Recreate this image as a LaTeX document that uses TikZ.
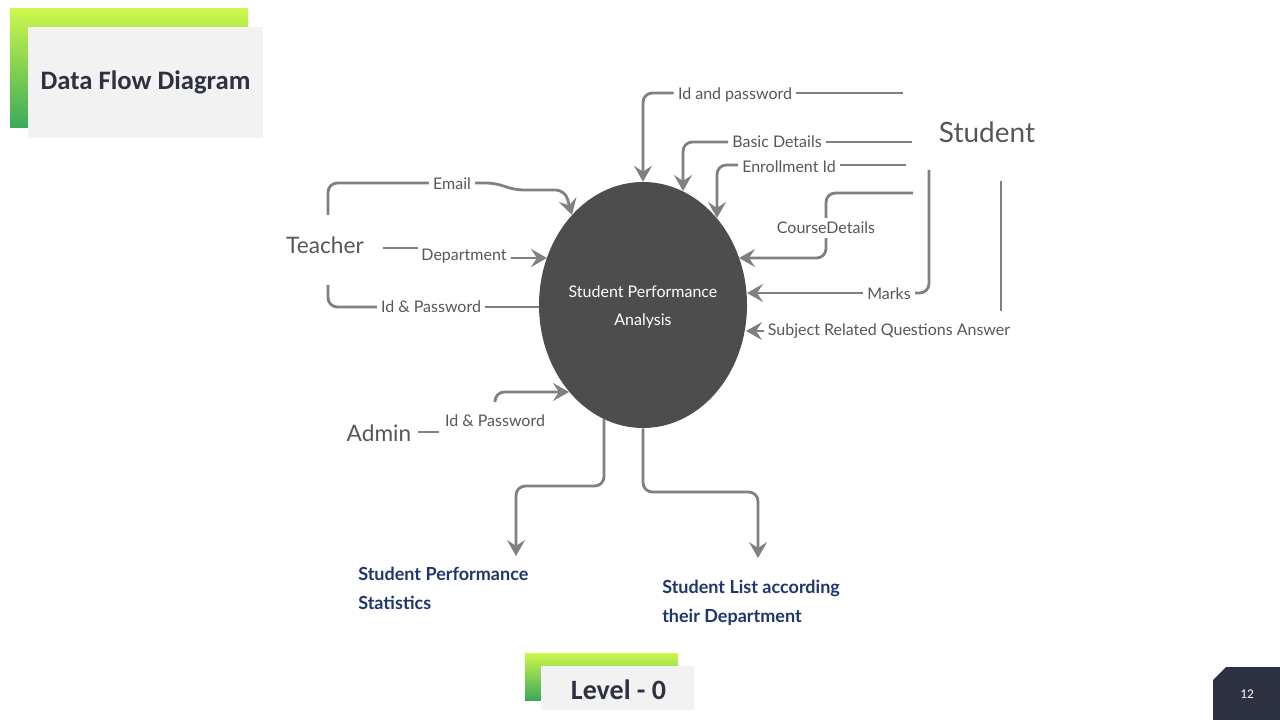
\documentclass[tikz,border=0pt]{standalone}
\usepackage{fontspec}
\setmainfont{Lato}
\newfontfamily\carl{Carlito}
\usetikzlibrary{arrows.meta,shapes.geometric}
\definecolor{lc}{HTML}{808080}
\definecolor{tc}{HTML}{575757}
\definecolor{navy}{HTML}{1F3570}
\definecolor{ttl}{HTML}{2E3142}
\definecolor{panel}{HTML}{F2F2F2}
\definecolor{lime}{HTML}{CDF74C}
\definecolor{mint}{HTML}{4EE680}
\definecolor{dgreen}{HTML}{3AAA58}
\definecolor{blob}{HTML}{4D4D4D}
\tikzset{
  flow/.style={draw=lc, line width=2.1pt, rounded corners=7pt},
  arr/.style={flow, -{Stealth[length=12pt,width=13.5pt,inset=4.5pt]}},
  lbl/.style={font=\fontsize{12}{14}\selectfont, text=tc, inner sep=3pt},
  actor/.style={text=tc, inner sep=0pt},
  outtxt/.style={font=\bfseries\fontsize{13.5}{21.75}\selectfont, text=navy, align=left, anchor=west, inner sep=0pt},
  grad/.style={top color=lime, middle color=mint, bottom color=dgreen, draw=none},
  pan/.style={fill=panel, draw=none}
}
\begin{document}
\begin{tikzpicture}[x=0.75pt,y=-0.75pt]
\useasboundingbox (0,0) rectangle (1280,720);
\fill[white] (0,0) rectangle (1280,720);

% title box
\shade[grad] (10,9) rectangle (248,128);
\fill[pan] (28,27) rectangle (263,138);
\node[font=\carl\bfseries\fontsize{20}{22}\selectfont, text=ttl] (title) at (145.5,82) {Data Flow Diagram};

% level box
\shade[grad] (525,653) rectangle (678,700);
\fill[pan] (541,666) rectangle (694,710);
\node[font=\carl\bfseries\fontsize{21}{23}\selectfont, text=ttl] (level) at (618.5,690) {Level - 0};

% page number
\fill[ttl] (1213,680) -- (1226,667) -- (1280,667) -- (1280,720) -- (1213,720) -- cycle;
\node[font=\carl\fontsize{10}{12}\selectfont, text=white] (pg) at (1247,694) {12};

% central process
\node[ellipse, fill=blob, inner sep=0pt, minimum width=156pt, minimum height=184.5pt] (sp) at (643,305) {};
\node[font=\fontsize{12}{21}\selectfont, text=white, align=center] (sptxt) at (643,307) {Student Performance\\Analysis};

% actors
\node[actor, font=\fontsize{17}{20}\selectfont] (teacher) at (325,245) {Teacher};
\node[actor, font=\fontsize{21}{24}\selectfont] (student) at (987,132) {Student};
\node[actor, font=\fontsize{17}{20}\selectfont] (admin) at (379,433) {Admin};

% teacher flows
\node[lbl] (email) at (452,184) {Email};
\draw[flow] (328,215) -- (328,183) -- (email.west |- 0,183);
\draw[arr] (email.east |- 0,183) -- (496,183) -- (514,190) -- (565,190) -- (572,215);

\node[lbl] (dep) at (464,256) {Department};
\draw[flow] (383,248) -- (418,248);
\draw[arr] (dep.east |- 0,258) -- (547,258);

\node[lbl] (tid) at (431,307) {Id \& Password};
\draw[flow] (328,285) -- (328,307) -- (tid.west);
\draw[flow] (tid.east) -- (tid.east -| sp.west);

% student flows
\node[lbl] (idpw) at (735,95) {Id and password};
\draw[flow] (903,93) -- (idpw.east |- 0,93);
\draw[arr] (idpw.west |- 0,93) -| (sp.north);

\node[lbl] (bd) at (777,142) {Basic Details};
\draw[flow] (912,142) -- (bd.east);
\draw[arr] (bd.west) -| (683,191);

\node[lbl] (en) at (789,167) {Enrollment Id};
\draw[flow] (906,165) -- (en.east |- 0,165);
\draw[arr] (en.west |- 0,165) -| (717,218);

\node[lbl] (cd) at (826,228) {CourseDetails};
\draw[flow] (913,193) -- (826,193) -- (cd.north);
\draw[arr] (cd.south) -- (826,258) -- (739,258);

\node[lbl] (mk) at (889,294) {Marks};
\draw[flow] (929,170) -- (929,293) -- (mk.east |- 0,293);
\draw[arr] (mk.west |- 0,293) -- (747,293);

\node[lbl] (sq) at (889,331) {Subject Related Questions Answer};
\draw[flow] (1001,181) -- (1001,311);
\draw[arr] (sq.west) -- (746,331);

% admin flow
\node[lbl] (aid) at (495,421) {Id \& Password};
\draw[draw=lc, line width=2.1pt] (418,432) -- (439,432);
\draw[arr] (495,402) -- (495,392) -- (569,392);

% outputs
\node[outtxt] (sps) at (358,588.5) {Student Performance\\Statistics};
\node[outtxt] (sld) at (662,603) {Student List according\\their Department};
\draw[arr] (604,419) -- (604,486) -- (516,486) -- (516,556);
\draw[arr] (sp.south) -- (643,492) -- (758,492) -- (758,558);
\end{tikzpicture}
\end{document}
